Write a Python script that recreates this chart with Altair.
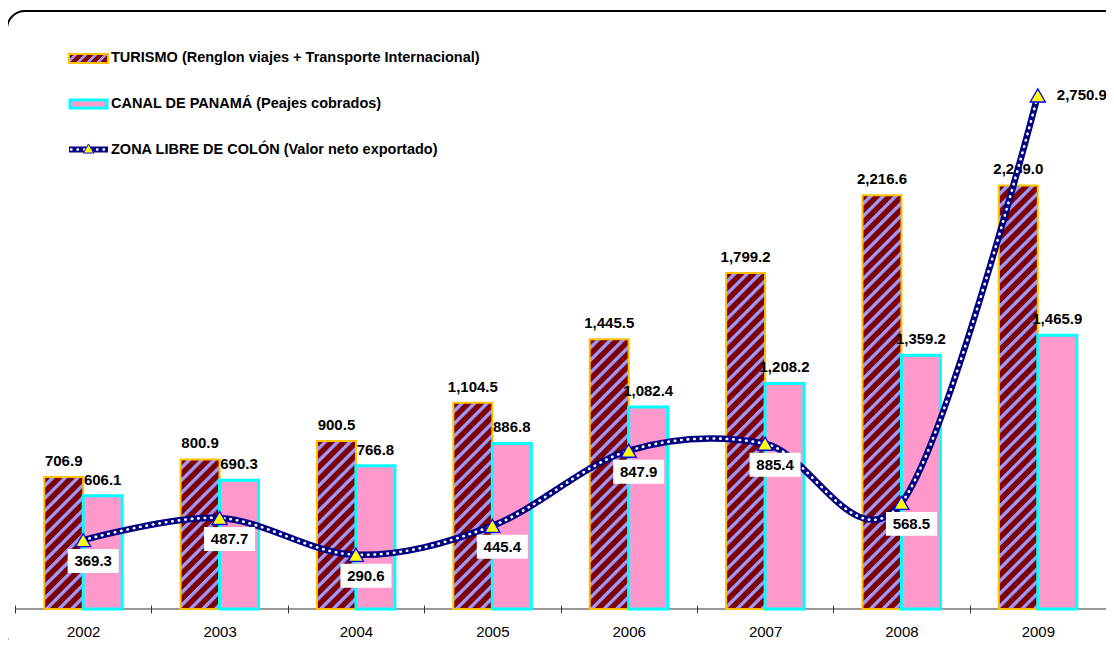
import math
import altair as alt
import pandas as pd

# ---------------- data ----------------
YEARS = ["2002", "2003", "2004", "2005", "2006", "2007", "2008", "2009"]
SERIES = [
    "TURISMO (Renglon viajes + Transporte Internacional)",
    "CANAL DE PANAMÁ (Peajes cobrados)",
    "ZONA LIBRE DE COLÓN (Valor neto exportado)",
]
TURISMO = [706.9, 800.9, 900.5, 1104.5, 1445.5, 1799.2, 2216.6, 2269.0]
CANAL = [606.1, 690.3, 766.8, 886.8, 1082.4, 1208.2, 1359.2, 1465.9]
ZONA = [369.3, 487.7, 290.6, 445.4, 847.9, 885.4, 568.5, 2750.9]

# ---------------- layout / style ----------------
W, H = 1091, 589
YMAX = 3155
PX = H / YMAX
BAR_W = 39.0
FONT = "Liberation Sans"
MAROON, LAVENDER = "#800000", "#9999FF"
PINK, CYAN, GOLD = "#FF99CC", "#00FFFF", "#FFC000"
NAVY = "#000080"
BOX_PATH = "M-1,-0.47L1,-0.47L1,0.47L-1,0.47Z"


def stripe_gradient(w, h, period=12.5):
    """Diagonal '/' stripes via a bounding-box linear gradient."""
    L = w + h
    k = L / (w * w + h * h)
    q = period / L
    stops = []
    n = int(math.ceil(L / period)) + 1
    for j in range(n):
        o = j * q
        for frac, col in [(0.0, MAROON), (0.5, MAROON), (0.6, LAVENDER), (0.86, LAVENDER)]:
            off = o + frac * q
            if off <= 1.0:
                stops.append(alt.GradientStop(offset=off, color=col))
    stops.append(alt.GradientStop(offset=1.0, color=MAROON))
    return alt.Gradient(gradient="linear", stops=stops, x1=0, y1=0, x2=k * w, y2=k * h)


bars_df = pd.DataFrame({
    "year": YEARS * 2,
    "series": [SERIES[0]] * len(YEARS) + [SERIES[1]] * len(YEARS),
    "value": TURISMO + CANAL,
})
zona_df = pd.DataFrame({"year": YEARS, "value": ZONA})
one = pd.DataFrame({"k": [0]})

x_enc = alt.X(
    "year:N",
    scale=alt.Scale(domain=YEARS, paddingInner=0, paddingOuter=0),
    axis=alt.Axis(
        title=None, labelAngle=0, domain=False, tickBand="extent", tickSize=8,
        offset=-4, tickColor="#333333", tickWidth=1, labelFont=FONT,
        labelFontSize=15, labelColor="black", labelPadding=11,
    ),
)
xo_enc = alt.XOffset("series:N", scale=alt.Scale(domain=SERIES[:2], paddingInner=0, paddingOuter=0.75))
y_enc = alt.Y("value:Q", scale=alt.Scale(domain=[0, YMAX], nice=False, zero=True), axis=None)

layers = []

# chart border (rounded)
layers.append(
    alt.Chart(one).mark_rect(filled=False, stroke="black", strokeWidth=2, cornerRadius=18).encode(
        x=alt.value(-8), x2=alt.value(1107), y=alt.value(-9), y2=alt.value(634)
    )
)

# baseline
layers.append(
    alt.Chart(one).mark_rule(color="#333333", strokeWidth=1).encode(
        x=alt.value(0), x2=alt.value(W), y=alt.value(H)
    )
)

# striped TURISMO bars, one layer each (gradient depends on bar height)
for yr, v in zip(YEARS, TURISMO):
    layers.append(
        alt.Chart(bars_df)
        .transform_filter((alt.datum.year == yr) & (alt.datum.series == SERIES[0]))
        .mark_bar(fill=stripe_gradient(BAR_W, v * PX), stroke=GOLD, strokeWidth=2)
        .encode(x=x_enc, xOffset=xo_enc, y=y_enc)
    )

# CANAL bars
layers.append(
    alt.Chart(bars_df)
    .transform_filter(alt.datum.series == SERIES[1])
    .mark_bar(fill=PINK, stroke=CYAN, strokeWidth=3)
    .encode(x=x_enc, xOffset=xo_enc, y=y_enc)
)

# bar labels
layers.append(
    alt.Chart(bars_df)
    .mark_text(dy=-11, baseline="alphabetic", fontWeight="bold", fontSize=15, font=FONT, color="black")
    .encode(x=x_enc, xOffset=xo_enc, y=y_enc, text=alt.Text("value:Q", format=",.1f"))
)

# ZONA line (navy with white dots)
layers.append(
    alt.Chart(zona_df).mark_line(color=NAVY, strokeWidth=6.5, interpolate="cardinal").encode(x=x_enc, y=y_enc)
)
layers.append(
    alt.Chart(zona_df).mark_line(
        color="white", strokeWidth=2.6, interpolate="cardinal", strokeDash=[0.5, 6], strokeCap="round"
    ).encode(x=x_enc, y=y_enc)
)
layers.append(
    alt.Chart(zona_df).mark_point(
        shape="triangle-up", size=230, filled=True, fill="#FFFF00", stroke="#0000FF",
        strokeWidth=1.3, opacity=1, fillOpacity=1,
    ).encode(x=x_enc, y=y_enc)
)

# ZONA label boxes + labels
layers.append(
    alt.Chart(zona_df)
    .transform_filter(alt.datum.year != YEARS[-1])
    .mark_point(shape=BOX_PATH, size=2601, filled=True, fill="white", opacity=1, fillOpacity=1,
                strokeWidth=0, xOffset=10, yOffset=21)
    .encode(x=x_enc, y=y_enc)
)
layers.append(
    alt.Chart(zona_df)
    .transform_filter(alt.datum.year != YEARS[-1])
    .mark_text(dx=10, dy=21, baseline="middle", fontWeight="bold", fontSize=15, font=FONT, color="black")
    .encode(x=x_enc, y=y_enc, text=alt.Text("value:Q", format=",.1f"))
)
layers.append(
    alt.Chart(zona_df)
    .transform_filter(alt.datum.year == YEARS[-1])
    .mark_text(dx=19, align="left", baseline="middle", fontWeight="bold", fontSize=15, font=FONT, color="black")
    .encode(x=x_enc, y=y_enc, text=alt.Text("value:Q", format=",.1f"))
)

# ---------------- custom legend ----------------
layers.append(
    alt.Chart(one).mark_rect(fill=stripe_gradient(39, 9, period=10), stroke=GOLD, strokeWidth=2).encode(
        x=alt.value(54), x2=alt.value(93), y=alt.value(34), y2=alt.value(43)
    )
)
layers.append(
    alt.Chart(one).mark_rect(fill=PINK, stroke=CYAN, strokeWidth=3).encode(
        x=alt.value(55), x2=alt.value(92), y=alt.value(80), y2=alt.value(88)
    )
)
layers.append(
    alt.Chart(one).mark_rule(color=NAVY, strokeWidth=6).encode(
        x=alt.value(54), x2=alt.value(93), y=alt.value(129.5)
    )
)
layers.append(
    alt.Chart(one).mark_rule(color="white", strokeWidth=2.4, strokeDash=[0.5, 6], strokeCap="round").encode(
        x=alt.value(56), x2=alt.value(93), y=alt.value(129.5)
    )
)
layers.append(
    alt.Chart(one).mark_point(
        shape="triangle-up", size=110, filled=True, fill="#FFFF00", stroke="#0000FF",
        strokeWidth=1, opacity=1, fillOpacity=1,
    ).encode(x=alt.value(73.5), y=alt.value(128.5))
)
for txt, ty in zip(SERIES, [38, 84, 129.5]):
    layers.append(
        alt.Chart(one).mark_text(
            align="left", baseline="middle", fontWeight="bold", fontSize=14.5, font=FONT, color="black"
        ).encode(x=alt.value(96), y=alt.value(ty), text=alt.value(txt))
    )

chart = (
    alt.layer(*layers)
    .properties(
        width=W, height=H, autosize="none",
        padding={"left": 7, "top": 12, "right": 0, "bottom": 31},
        background="white",
    )
    .configure_view(stroke=None)
)

chart.save("out.html", embed_options={"renderer": "svg", "actions": False})
